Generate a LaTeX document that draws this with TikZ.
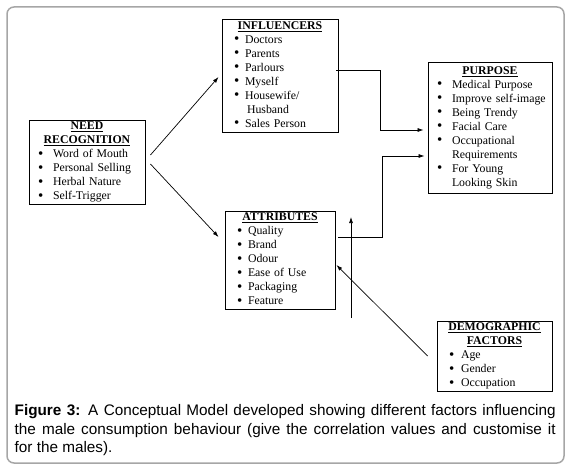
\documentclass[tikz,border=0pt]{standalone}
\usepackage{fontspec}
\setmainfont{Liberation Serif}
\newfontfamily\capfont{Liberation Sans}
\usetikzlibrary{arrows.meta}
\newcommand{\bulin}{10pt}
\newcommand{\bulgap}{14pt}
\newcommand{\hd}[1]{\makebox[\hsize]{\strut\underline{\textbf{#1}}}}
\newcommand{\itm}[1]{\hspace*{\bulin}\makebox[\bulgap][l]{\raisebox{-0.6pt}{\fontsize{15}{14}\selectfont\textbullet}}\strut #1}
\newcommand{\itc}[1]{\hspace*{\bulin}\hspace*{\bulgap}\strut #1}

\begin{document}
\begin{tikzpicture}[x=1pt,y=-1pt,
                    box/.style n args={2}{draw=black,line width=0.9pt,rectangle,inner sep=0pt,align=left,
                        font=\fontsize{11.8}{14}\selectfont\def\bulin{#1}\def\bulgap{#2}},
                    arr/.style={-{Latex[length=6pt,width=4pt]},line width=0.7pt}
                ]
                    \useasboundingbox (0,0) rectangle (569,473);
                    \draw[rounded corners=7pt,draw=black!35,line width=1.5pt] (7,7) rectangle (564,463);

                    \node[box={9pt}{15pt},text width=116pt,minimum height=84] (need) at (87,162)
                        {\hd{NEED}\\ \hd{RECOGNITION}\\ \itm{Word of Mouth}\\ \itm{Personal Selling}\\
                         \itm{Herbal Nature}\\ \itm{Self-Trigger}};
                    \node[box={12pt}{11pt},text width=116pt,minimum height=113] (infl) at (280,75.5)
                        {\hd{INFLUENCERS}\\ \itm{Doctors}\\ \itm{Parents}\\ \itm{Parlours}\\ \itm{Myself}\\
                         \itm{Housewife/}\\ \itc{\hspace*{2pt}Husband}\\ \itm{Sales Person}};
                    \node[box={9pt}{15pt},text width=124pt,minimum height=131] (purp) at (490,127.5)
                        {\hd{PURPOSE}\\ \itm{Medical Purpose}\\ \itm{Improve self-image}\\ \itm{Being Trendy}\\
                         \itm{Facial Care}\\ \itm{Occupational}\\ \itc{Requirements}\\ \itm{For Young}\\
                         \itc{Looking Skin}};
                    \node[box={12pt}{11pt},text width=110pt,minimum height=98] (attr) at (280,260)
                        {\hd{ATTRIBUTES}\\ \itm{Quality}\\ \itm{Brand}\\ \itm{Odour}\\ \itm{Ease of Use}\\
                         \itm{Packaging}\\ \itm{Feature}};
                    \node[box={12pt}{12pt},text width=115pt,minimum height=70] (demo) at (494.5,356)
                        {\hd{DEMOGRAPHIC}\\ \hd{FACTORS}\\ \itm{Age}\\ \itm{Gender}\\ \itm{Occupation}};

                    \node[anchor=north west,text width=541pt,align=justify,inner sep=0pt,
                          font=\capfont\fontsize{15.3}{18.5}\selectfont] (cap) at (14.5,404.3)
                        {\textbf{Figure 3:} A Conceptual Model developed showing different factors influencing
                         the male consumption behaviour (give the correlation values and customise it\linebreak
                         for the males).};

                    \coordinate (up0) at (351,318);
                    \coordinate (up1) at (351,217);

                    \draw[arr] ([shift={(5,-7)}]need.east) -- ([shift={(-3,1.5)}]infl.west);
                    \draw[arr] ([shift={(5,2)}]need.east) -- ([shift={(-6,-23)}]attr.west);
                    \draw[arr] ([shift={(-2,-5.5)}]infl.east) -- ++(44,0) |- ([shift={(-4,2.5)}]purp.west);
                    \draw[arr] ([shift={(3,-23)}]attr.east) -- ++(44,0) |- ([shift={(-3,28.5)}]purp.west);
                    \draw[arr] (up0) -- (up1);
                    \draw[arr] ([shift={(-9,0)}]demo.west) -- ([shift={(1,5)}]attr.east);

                \end{tikzpicture}
\end{document}
